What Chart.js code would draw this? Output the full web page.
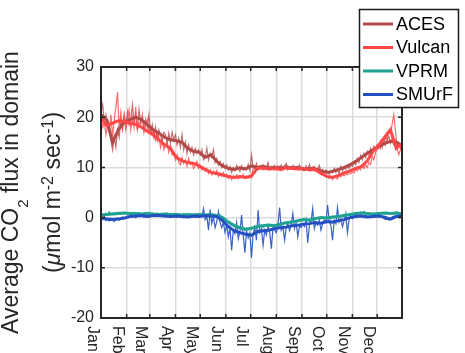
<!DOCTYPE html>
<html>
<head>
<meta charset="utf-8">
<script src="https://cdn.jsdelivr.net/npm/chart.js@4.4.1/dist/chart.umd.min.js"></script>
<style>
  html, body { margin: 0; padding: 0; background: #fff; }
  canvas { display: block; }
</style>
</head>
<body>
<canvas id="chart" width="465" height="353"></canvas>
<script>
// month labels and the day of year where each month starts
const months = ["Jan", "Feb", "Mar", "Apr", "May", "Jun", "Jul", "Aug", "Sep", "Oct", "Nov", "Dec"];
const monthStart = [1, 32, 60, 91, 121, 152, 182, 213, 244, 274, 305, 335];
const yTicks = [-20, -10, 0, 10, 20, 30];

// smoothed series, one value every 7 days from day 1
const weekStep = 7;
const acesWeek = [20.5, 19.5, 15.0, 17.5, 19.0, 19.5, 20.0, 19.5, 18.5, 17.5, 16.8, 16.0, 15.5, 15.3, 15.0, 13.8, 13.2, 13.0, 12.0, 12.5, 11.2, 10.3, 9.8, 9.6, 9.9, 9.7, 10.3, 10.0, 10.2, 9.9, 10.0, 9.8, 10.1, 9.9, 10.0, 9.6, 9.8, 9.7, 9.3, 9.0, 9.2, 9.6, 10.0, 10.5, 11.2, 12.0, 12.8, 13.5, 14.2, 14.8, 15.2, 15.0, 14.3];
const vulcanWeek = [20.0, 18.3, 18.8, 19.3, 19.2, 18.8, 18.6, 18.0, 17.2, 16.5, 15.5, 14.5, 13.8, 12.0, 11.3, 11.0, 10.8, 10.3, 9.6, 9.0, 8.8, 8.5, 8.2, 8.0, 8.2, 8.0, 8.3, 9.8, 9.9, 9.7, 9.8, 9.6, 9.9, 9.8, 9.7, 9.8, 9.5, 9.6, 8.8, 8.2, 8.0, 8.4, 8.9, 9.3, 9.8, 10.2, 11.3, 13.2, 14.5, 16.0, 17.5, 13.8, 14.8];
const vprmWeek = [0.5, 0.6, 0.7, 0.8, 0.9, 0.8, 0.8, 0.7, 0.8, 0.7, 0.6, 0.7, 0.6, 0.6, 0.5, 0.6, 0.5, 0.6, 0.5, 0.6, 0.4, 0.0, -0.9, -1.6, -2.0, -2.3, -2.1, -1.8, -1.6, -1.5, -1.6, -1.3, -1.0, -0.9, -0.6, -0.4, -0.5, -0.2, 0.0, -0.1, 0.1, 0.2, 0.4, 0.6, 0.8, 0.9, 0.8, 0.7, 0.8, 0.9, 0.8, 0.9, 0.7];
const smurfWeek = [0.0, -0.3, -0.4, -0.3, -0.1, 0.2, 0.3, 0.4, 0.2, 0.4, 0.4, 0.3, 0.2, 0.3, 0.2, 0.1, 0.3, 0.2, 0.4, 0.3, 0.2, -0.6, -1.8, -2.6, -3.0, -3.3, -3.5, -2.8, -2.6, -2.5, -2.2, -2.0, -1.9, -1.6, -1.5, -1.3, -1.2, -1.0, -1.1, -0.8, -0.9, -0.6, -0.4, 0.0, 0.2, 0.3, 0.1, 0.2, 0.3, 0.1, -0.3, 0.2, 0.3];

// raw series, one value every 2 days from day 1 (one row per month)
const dayStep = 2;
const acesDay = [
  21.0, 22.5, 19.0, 20.5, 18.0, 17.0, 15.5, 13.5, 16.0, 14.0, 17.5, 16.0, 19.5, 17.5, 20.5, 18.5,
  21.0, 18.5, 19.5, 22.5, 19.0, 20.5, 17.5, 21.5, 19.0, 20.0, 17.5, 19.5, 18.0, 20.5,
  17.0, 18.5, 16.0, 18.0, 15.5, 17.5, 16.5, 15.0, 17.0, 16.5, 14.5, 16.8, 15.0, 17.0, 15.5,
  16.5, 14.5, 15.8, 14.0, 16.5, 13.5, 15.0, 12.8, 14.5, 13.0, 14.0, 12.5, 13.8, 12.8, 13.5,
  12.5, 13.5, 11.5, 12.0, 13.8, 11.5, 12.8, 12.0, 13.5, 11.0, 11.8, 10.5, 11.2, 10.0, 10.8, 9.8,
  10.5, 9.5, 10.2, 9.0, 10.0, 9.3, 10.4, 9.8, 9.2, 10.3, 9.5, 10.0, 9.6, 10.6, 9.4,
  12.5, 10.0, 9.7, 10.8, 9.6, 10.3, 9.9, 10.5, 9.7, 10.1, 11.0, 9.6, 10.2, 9.8, 10.4,
  9.7, 10.3, 9.9, 10.5, 9.5, 10.2, 10.8, 9.6, 10.1, 9.8, 10.4, 9.7, 10.2, 9.9, 10.5, 9.8,
  10.0, 9.4, 10.3, 9.6, 10.6, 9.5, 9.9, 10.2, 9.3, 9.8, 10.4, 9.2, 9.6, 9.0, 9.5,
  9.2, 8.6, 9.4, 8.9, 9.8, 9.0, 9.5, 8.8, 10.2, 9.3, 10.0, 9.6, 10.4, 9.8, 10.6,
  10.2, 11.0, 10.5, 11.8, 11.0, 12.4, 11.5, 12.8, 12.0, 13.2, 12.5, 13.8, 13.0, 14.2, 13.5,
  14.5, 13.8, 15.2, 14.0, 15.8, 14.5, 15.5, 16.2, 14.8, 15.6, 14.6, 15.4, 14.2, 15.0, 13.8, 14.5
];
const vulcanDay = [
  20.5, 18.0, 19.0, 16.5, 18.5, 17.0, 20.5, 16.0, 19.5, 22.0, 25.0, 17.5, 21.0, 18.0, 20.5, 17.5,
  19.5, 21.5, 17.5, 20.0, 18.0, 22.0, 17.5, 19.0, 18.5, 20.5, 17.0, 18.5, 19.5, 17.0,
  18.0, 16.5, 17.5, 15.5, 17.0, 16.0, 14.0, 15.5, 13.5, 14.5, 15.0, 13.0, 14.5, 12.5, 13.0,
  11.5, 12.5, 11.0, 10.5, 12.0, 10.8, 11.5, 10.2, 11.8, 10.5, 11.0, 9.8, 10.5, 11.2, 9.8,
  10.2, 9.5, 10.0, 9.2, 9.8, 8.8, 9.5, 8.5, 9.2, 8.6, 9.4, 8.2, 8.9, 8.3, 9.0, 8.2,
  8.6, 7.8, 8.4, 7.6, 8.3, 7.9, 8.5, 7.7, 8.2, 8.0, 8.6, 7.8, 8.3, 7.9, 8.4,
  7.9, 9.8, 10.2, 9.6, 10.1, 9.7, 10.3, 9.5, 10.0, 9.8, 10.4, 9.6, 9.9, 10.2, 9.5,
  9.9, 9.6, 10.2, 9.4, 10.0, 9.7, 10.3, 9.5, 9.8, 10.1, 9.6, 10.2, 9.7, 10.0, 9.5, 10.1,
  9.8, 9.6, 10.0, 9.5, 9.9, 9.7, 10.1, 9.4, 9.8, 9.5, 9.9, 9.0, 8.7, 8.4, 8.3,
  8.1, 7.8, 8.3, 7.6, 8.2, 8.0, 7.7, 8.4, 8.1, 8.6, 8.3, 8.8, 8.5, 9.0, 8.7,
  9.2, 8.9, 9.6, 9.3, 9.9, 9.5, 10.3, 9.8, 10.5, 10.0, 11.0, 10.6, 12.2, 11.5, 13.0,
  13.5, 14.5, 13.8, 15.2, 14.6, 16.0, 15.5, 17.0, 16.8, 18.5, 20.5, 17.5, 14.0, 12.5, 13.5, 15.5
];
const vprmDay = [
  0.4, 0.7, 0.5, 0.9, 0.6, 1.2, 0.7, 0.9, 0.6, 1.0, 0.8, 1.1, 0.7, 1.0, 0.8, 0.9,
  0.9, 0.7, 1.0, 0.8, 0.6, 0.9, 0.7, 1.0, 0.8, 0.6, 0.9, 0.7, 0.8, 1.0,
  0.7, 0.5, 0.8, 0.6, 0.9, 0.7, 0.5, 0.8, 0.6, 0.7, 0.9, 0.6, 0.8, 0.5, 0.7,
  0.6, 0.5, 0.7, 0.4, 0.6, 0.8, 0.5, 0.6, 0.4, 0.7, 0.5, 0.6, 0.8, 0.5, 0.6,
  0.5, 0.7, 0.4, 0.6, 0.5, 0.7, 0.4, 0.6, 0.5, 0.7, 0.5, 0.3, 0.6, 0.2, 0.0, -0.3,
  -0.6, -1.0, -0.8, -1.5, -1.3, -1.9, -1.6, -2.2, -1.8, -2.4, -2.0, -2.6, -2.1, -2.5, -2.2,
  -2.4, -2.0, -1.6, -2.2, -1.5, -1.9, -1.4, -2.0, -1.6, -1.3, -1.8, -1.4, -1.7, -1.5, -1.9,
  -1.5, -1.2, -1.7, -1.0, -1.4, -0.9, -1.3, -1.1, -0.8, -1.2, -0.7, -1.0, -0.6, -0.9, -0.5, -0.8,
  -0.5, -0.2, -0.6, -0.3, -0.7, -0.4, -0.1, -0.5, -0.3, 0.0, -0.4, -0.1, 0.1, -0.3, 0.0,
  -0.2, 0.1, -0.3, 0.2, 0.0, 0.3, 0.1, 0.4, 0.2, 0.5, 0.3, 0.6, 0.4, 0.7, 0.5,
  0.6, 0.8, 0.7, 1.0, 0.8, 1.1, 0.9, 1.3, 0.9, 1.0, 0.7, 0.9, 0.8, 0.6, 0.8,
  0.9, 0.7, 1.0, 0.8, 0.9, 0.7, 1.1, 0.8, 0.9, 1.0, 0.7, 0.9, 1.2, 0.8, 0.9, 0.7
];
const smurfDay = [
  -0.1, -0.4, 0.2, -0.6, -0.3, -0.7, -0.2, -0.5, -0.8, -0.3, -0.1, -0.5, -0.2, 0.1, -0.3, 0.0,
  0.3, 0.1, 0.5, 0.2, 0.4, 0.0, 0.3, 0.5, 0.2, 0.4, 0.1, 0.5, 0.3, 0.2,
  0.4, 0.6, 0.3, 0.5, 0.2, 0.4, 0.6, 0.3, 0.5, 0.4, 0.2, 0.4, 0.3, 0.5, 0.2,
  0.3, 0.1, 0.4, 0.2, 0.3, 0.0, 0.3, 0.2, 0.4, 0.1, 0.2, 0.4, 0.1, 0.3, 0.2,
  0.3, 0.2, 1.8, -0.4, 0.3, -2.5, 1.6, -1.2, 0.2, -2.0, -0.8, 1.2, -1.0, -2.0, -1.0, -3.0,
  -1.5, -3.8, -2.0, -6.5, -2.5, -3.2, -1.0, -4.2, -2.8, 0.5, -3.5, -7.0, -2.6, -4.0, -3.0,
  -8.0, -3.2, -2.0, -4.5, 1.5, -3.0, -2.2, -5.5, -2.5, -3.5, -1.8, -2.8, -6.2, -2.0, -2.5,
  -3.0, -1.5, 2.0, -2.5, -1.8, -4.5, -2.0, -1.2, -2.6, -1.5, 0.8, -2.2, -1.0, -3.8, -1.6, -2.0,
  -1.2, -1.8, -0.5, -5.0, -1.5, -0.8, 1.8, -2.2, -1.0, -1.5, -0.6, -2.5, -1.2, -0.5, -1.0,
  2.5, -0.8, -1.5, -4.5, -0.5, -1.2, 2.0, -0.9, -0.3, -1.8, -0.6, 0.8, -3.0, -0.4, 0.2,
  -0.2, 0.4, 0.1, 0.5, 0.2, 0.4, 0.3, 0.0, 0.5, 0.2, 0.3, 0.1, 0.4, 0.2, 0.3,
  0.4, 0.2, 0.3, 0.1, -0.2, -0.4, -0.3, -0.5, -0.2, 0.1, 0.3, 0.2, 0.4, 0.3, 0.2, 0.4
];

const FONT = "'Liberation Sans', Arial, Helvetica, sans-serif";
const axisColor = "#262626";

function pts(arr, step) {
  return arr.map((v, i) => ({ x: 1 + i * step, y: v }));
}

const series = [
  { name: "ACES", color: "#b34a4a", thin: "rgba(179,74,74,0.8)", week: acesWeek, day: acesDay },
  { name: "Vulcan", color: "#ff4747", thin: "rgba(255,71,71,0.8)", week: vulcanWeek, day: vulcanDay },
  { name: "VPRM", color: "#1fa391", thin: "rgba(31,163,145,0.85)", week: vprmWeek, day: vprmDay },
  { name: "SMUrF", color: "#2350c0", thin: "rgba(35,80,192,0.9)", week: smurfWeek, day: smurfDay }
];
// which one is drawn on top (lower = on top)
const drawOrder = { ACES: 3, Vulcan: 2, VPRM: 1, SMUrF: 0 };

const datasets = [];
series.forEach(s => {
  datasets.push({
    label: s.name + " daily",
    data: pts(s.day, dayStep),
    borderColor: s.thin,
    borderWidth: 1.2,
    pointRadius: 0,
    order: 10 + drawOrder[s.name]
  });
  datasets.push({
    label: s.name,
    data: pts(s.week, weekStep),
    borderColor: s.color,
    borderWidth: 3,
    pointRadius: 0,
    order: drawOrder[s.name]
  });
});

// draws rich text (sub/superscripts) along the current x direction, centred on 0
function drawParts(ctx, parts) {
  let total = 0;
  parts.forEach(p => {
    ctx.font = (p[3] ? "italic " : "") + p[1] + "px " + FONT;
    total += ctx.measureText(p[0]).width;
  });
  let x = -total / 2;
  parts.forEach(p => {
    ctx.font = (p[3] ? "italic " : "") + p[1] + "px " + FONT;
    ctx.fillText(p[0], x, p[2]);
    x += ctx.measureText(p[0]).width;
  });
}

const decorations = {
  id: "decorations",
  afterDraw(chart) {
    const { ctx, chartArea: a, scales } = chart;
    const xs = scales.x, ys = scales.y;
    ctx.save();

    // box and inward ticks
    ctx.strokeStyle = axisColor;
    ctx.lineWidth = 2;
    ctx.strokeRect(a.left, a.top, a.right - a.left, a.bottom - a.top);
    ctx.lineWidth = 1.5;
    ctx.beginPath();
    monthStart.forEach(d => {
      const px = xs.getPixelForValue(d);
      ctx.moveTo(px, a.bottom); ctx.lineTo(px, a.bottom - 4);
      ctx.moveTo(px, a.top); ctx.lineTo(px, a.top + 4);
    });
    yTicks.forEach(v => {
      const py = ys.getPixelForValue(v);
      ctx.moveTo(a.left, py); ctx.lineTo(a.left + 4, py);
      ctx.moveTo(a.right, py); ctx.lineTo(a.right - 4, py);
    });
    ctx.stroke();

    // month labels, turned clockwise
    ctx.fillStyle = axisColor;
    ctx.font = "16px " + FONT;
    ctx.textAlign = "left";
    ctx.textBaseline = "top";
    monthStart.forEach((d, i) => {
      ctx.save();
      ctx.translate(xs.getPixelForValue(d) - 1, a.bottom + 8);
      ctx.rotate(Math.PI / 2);
      ctx.fillText(months[i], 0, 0);
      ctx.restore();
    });

    // y axis title, two lines
    const midY = (a.top + a.bottom) / 2;
    ctx.textBaseline = "alphabetic";
    ctx.save();
    ctx.translate(18, midY);
    ctx.rotate(-Math.PI / 2);
    drawParts(ctx, [["Average CO", 23, 0], ["2", 15, 10], [" flux in domain", 23, 0]]);
    ctx.restore();
    ctx.save();
    ctx.translate(60, midY);
    ctx.rotate(-Math.PI / 2);
    drawParts(ctx, [["(", 23, 0], ["\u03bc", 23, 0, true], ["mol m", 23, 0], ["-2", 16, -7],
                    [" sec", 23, 0], ["-1", 16, -7], [")", 23, 0]]);
    ctx.restore();

    // legend
    const lx = 359.5, ly = 9.5, lw = 99, lh = 98;
    ctx.fillStyle = "#fff";
    ctx.fillRect(lx, ly, lw, lh);
    ctx.strokeStyle = "#1a1a1a";
    ctx.lineWidth = 1.5;
    ctx.strokeRect(lx, ly, lw, lh);
    ctx.font = "18px " + FONT;
    ctx.textBaseline = "middle";
    series.forEach((s, i) => {
      const ry = 24 + i * 23.5;
      ctx.strokeStyle = s.color;
      ctx.lineWidth = 3;
      ctx.beginPath();
      ctx.moveTo(363, ry); ctx.lineTo(393, ry);
      ctx.stroke();
      ctx.fillStyle = "#000";
      ctx.fillText(s.name, 396, ry + 1);
    });

    ctx.restore();
  }
};

new Chart(document.getElementById("chart"), {
  type: "line",
  data: { datasets: datasets },
  options: {
    responsive: false,
    animation: false,
    layout: { padding: { left: 0, top: 67, right: 63, bottom: 0 } },
    plugins: { legend: { display: false }, tooltip: { enabled: false } },
    elements: { line: { tension: 0 } },
    scales: {
      x: {
        type: "linear",
        min: 1,
        max: 365,
        afterBuildTicks: s => { s.ticks = monthStart.map(v => ({ value: v })); },
        afterFit: s => { s.height = 35; },
        ticks: { display: false },
        grid: { color: "#dcdcdc", lineWidth: 1.5, drawTicks: false },
        border: { display: false }
      },
      y: {
        min: -20,
        max: 30,
        afterBuildTicks: s => { s.ticks = yTicks.map(v => ({ value: v })); },
        afterFit: s => { s.width = 101; },
        ticks: { color: axisColor, font: { family: FONT, size: 16 }, padding: 7 },
        grid: { color: "#dcdcdc", lineWidth: 1.5, drawTicks: false },
        border: { display: false }
      }
    }
  },
  plugins: [decorations]
});
</script>
</body>
</html>
